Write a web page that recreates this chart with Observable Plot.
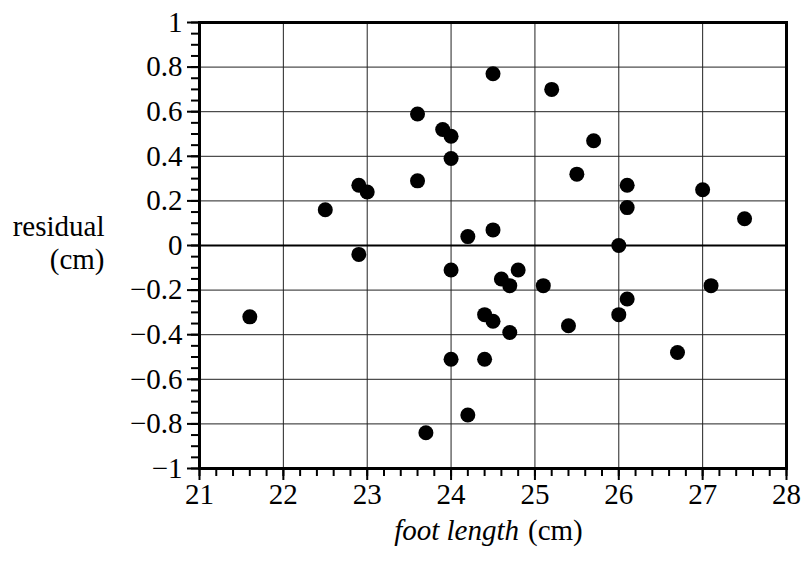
<!DOCTYPE html>
<html>
<head>
<meta charset="utf-8">
<script src="https://cdn.jsdelivr.net/npm/d3@7"></script>
<script src="https://cdn.jsdelivr.net/npm/@observablehq/plot@0.6"></script>
<style>
  html, body { margin: 0; padding: 0; background: white; }
</style>
</head>
<body>
<div id="chart"></div>
<script>
// Data
const footLength = [21.6, 22.5, 22.9, 23.0, 22.9, 23.6, 23.6, 23.9, 24.0, 24.0,
                    24.5, 25.2, 25.7, 25.5, 26.1, 26.1, 27.0, 27.5, 24.2, 24.5,
                    26.0, 24.0, 24.8, 24.6, 24.7, 25.1, 27.1, 26.1, 26.0, 24.4,
                    24.5, 25.4, 24.7, 26.7, 24.0, 24.4, 24.2, 23.7];
const residual   = [-0.32, 0.16, 0.27, 0.24, -0.04, 0.59, 0.29, 0.52, 0.49, 0.39,
                    0.77, 0.70, 0.47, 0.32, 0.27, 0.17, 0.25, 0.12, 0.04, 0.07,
                    0.00, -0.11, -0.11, -0.15, -0.18, -0.18, -0.18, -0.24, -0.31, -0.31,
                    -0.34, -0.36, -0.39, -0.48, -0.51, -0.51, -0.76, -0.84];

const xTicks = [21, 22, 23, 24, 25, 26, 27, 28];
const yTicks = [-1, -0.8, -0.6, -0.4, -0.2, 0, 0.2, 0.4, 0.6, 0.8, 1];
const xMinor = d3.range(21, 28.001, 0.2);
const yMinor = d3.range(-1, 1.001, 0.05);

const points = footLength.map((x, i) => ({x, y: residual[i]}));
const fmt = d3.format("~g");
const serif = "'Liberation Serif', 'Times New Roman', serif";
const fs = 29;

const chart = Plot.plot({
  width: 804,
  height: 568,
  marginLeft: 199,
  marginRight: 18,
  marginTop: 22,
  marginBottom: 100,
  style: {fontFamily: serif, fontSize: fs + "px", background: "white", color: "black"},
  x: {domain: [21, 28]},
  y: {domain: [-1, 1]},
  marks: [
    Plot.gridX(xTicks, {stroke: "#222", strokeOpacity: 1, strokeWidth: 1}),
    Plot.gridY(yTicks, {stroke: "#222", strokeOpacity: 1, strokeWidth: 1}),
    Plot.ruleY([0], {stroke: "black", strokeWidth: 2}),
    Plot.dot(points, {x: "x", y: "y", r: 7.5, fill: "black", stroke: "none"}),
    Plot.frame({stroke: "black", strokeWidth: 3}),
    Plot.axisX(xMinor, {tickSize: 8, strokeWidth: 2, text: null, label: null}),
    Plot.axisY(yMinor, {tickSize: 8, strokeWidth: 2, text: null, label: null}),
    Plot.axisX(xTicks, {tickSize: 12, strokeWidth: 2, text: null, label: null}),
    Plot.axisY(yTicks, {tickSize: 12, strokeWidth: 2, text: null, label: null}),
    Plot.text(xTicks, {x: d => d, text: fmt, frameAnchor: "bottom", dy: 35, fontSize: fs, fontFamily: serif}),
    Plot.text(yTicks, {y: d => d, text: fmt, frameAnchor: "left", dx: -17, textAnchor: "end", fontSize: fs, fontFamily: serif}),
    Plot.text(["residual"], {frameAnchor: "left", dx: -95, dy: -19, textAnchor: "end", fontSize: fs, fontFamily: serif}),
    Plot.text(["(cm)"], {frameAnchor: "left", dx: -95, dy: 14, textAnchor: "end", fontSize: fs, fontFamily: serif}),
    Plot.text(["foot length"], {frameAnchor: "bottom", dx: 26, dy: 71, textAnchor: "end", fontStyle: "italic", fontSize: fs, fontFamily: serif}),
    Plot.text(["(cm)"], {frameAnchor: "bottom", dx: 35, dy: 71, textAnchor: "start", fontSize: fs, fontFamily: serif})
  ]
});
document.getElementById("chart").appendChild(chart);
</script>
</body>
</html>
